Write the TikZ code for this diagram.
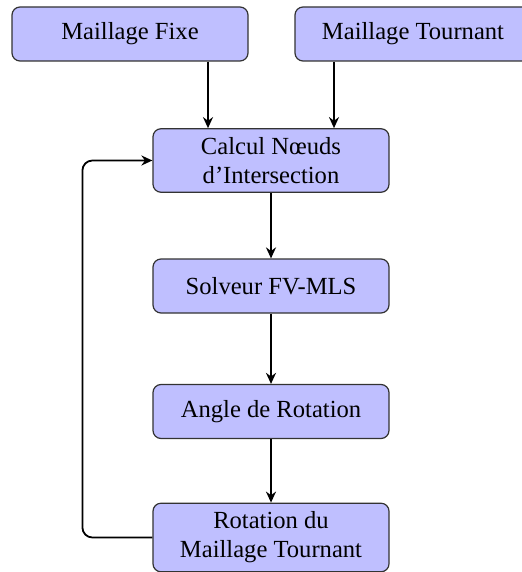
\documentclass[tikz,border=0pt]{standalone}
\usepackage{fontspec}
\setmainfont{Liberation Serif}
\usetikzlibrary{arrows.meta,positioning,calc}
\begin{document}
\begin{tikzpicture}[x=0.5pt,y=-0.5pt,
  box/.style={draw=black!80, line width=0.6pt, fill=blue!25, rounded corners=4pt,
    minimum width=118pt, minimum height=27pt, align=center, inner xsep=2pt, inner ysep=4.3pt,
    font=\fontsize{12.3}{14.5}\selectfont},
  arr/.style={line width=0.9pt, -{Stealth[length=5.5pt,width=5pt]}}]
\useasboundingbox (0,0) rectangle (521,572);
\node[box] (fixe) at (130,34) {Maillage Fixe};
\node[box] (tourn) at (413,34) {Maillage Tournant};
\node[box] (calc) at (271,160.5) {Calcul Nœuds\\d’Intersection};
\node[box] (solv) at (271,286) {Solveur FV-MLS};
\node[box] (angle) at (271,411.5) {Angle de Rotation};
\node[box] (rot) at (271,537.5) {Rotation du\\Maillage Tournant};
\draw[arr] ([xshift=-31.5pt]calc.north |- fixe.south) -- ([xshift=-31.5pt]calc.north);
\draw[arr] ([xshift=31.5pt]calc.north |- tourn.south) -- ([xshift=31.5pt]calc.north);
\draw[arr] (calc) -- (solv);
\draw[arr] (solv) -- (angle);
\draw[arr] (angle) -- (rot);
\draw[arr, rounded corners=5pt] (rot.west) -- ++(-35pt,0) |- (calc.west);
\end{tikzpicture}
\end{document}
